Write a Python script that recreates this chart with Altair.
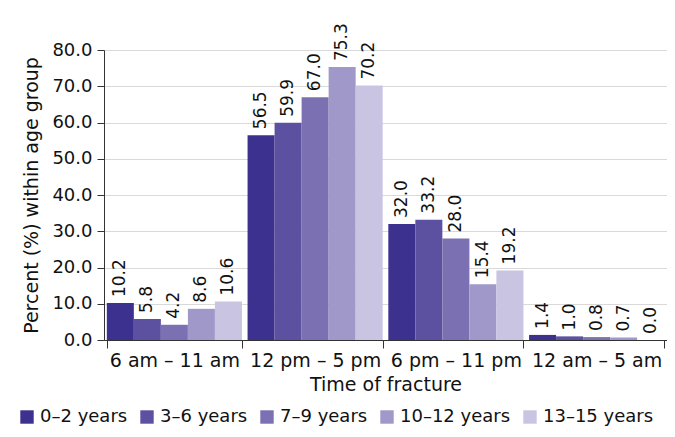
import altair as alt
import pandas as pd

categories = ["6 am – 11 am", "12 pm – 5 pm", "6 pm – 11 pm", "12 am – 5 am"]
groups = ["0–2 years", "3–6 years", "7–9 years", "10–12 years", "13–15 years"]
values = {
    "0–2 years": [10.2, 56.5, 32.0, 1.4],
    "3–6 years": [5.8, 59.9, 33.2, 1.0],
    "7–9 years": [4.2, 67.0, 28.0, 0.8],
    "10–12 years": [8.6, 75.3, 15.4, 0.7],
    "13–15 years": [10.6, 70.2, 19.2, 0.0],
}
y_ticks = [0, 10, 20, 30, 40, 50, 60, 70, 80]
colors = ["#3d3190", "#5c51a0", "#7a70b2", "#9f98c8", "#c9c4e2"]

rows = []
for g in groups:
    for c, v in zip(categories, values[g]):
        rows.append({"time": c, "group": g, "value": v})
df = pd.DataFrame(rows)

FONT = "DejaVu Sans"
INK = "#111111"

yaxis = alt.Axis(values=y_ticks, labelOverlap=False, format=".1f", labelFontSize=18,
                 titleFontSize=19, titleFontWeight="normal", tickSize=7,
                 domainColor="#333333", tickColor="#333333", gridColor="#d9d9d9",
                 labelColor=INK, titleColor=INK, titlePadding=10, labelPadding=5)

x = alt.X("time:N", sort=categories, title="Time of fracture",
          scale=alt.Scale(paddingInner=0.04, paddingOuter=0.02),
          axis=alt.Axis(labelAngle=0, labelFontSize=19, titleFontSize=19,
                        tickBand="extent", tickSize=8, domainColor="#333333",
                        tickColor="#333333", labelColor=INK, titleColor=INK,
                        titleFontWeight="normal", labelPadding=3, titlePadding=5))
xo = alt.XOffset("group:N", sort=groups, scale=alt.Scale(paddingInner=0, paddingOuter=0))
y = alt.Y("value:Q", title="Percent (%) within age group",
          scale=alt.Scale(domain=[0, 80], nice=False), axis=yaxis)
color = alt.Color("group:N", sort=groups, scale=alt.Scale(domain=groups, range=colors),
                  legend=alt.Legend(title=None, orient="none", legendX=-86, legendY=358,
                                    direction="horizontal", symbolType="square",
                                    symbolSize=180, symbolStrokeWidth=0, labelFontSize=18,
                                    labelColor=INK, columnPadding=10, labelOffset=4))

base = alt.Chart(df)
bars = base.mark_bar(opacity=1).encode(x=x, xOffset=xo, y=y, color=color)
labels = base.mark_text(angle=270, align="left", baseline="middle", dx=6,
                        fontSize=17, font=FONT, color=INK).encode(
    x=x, xOffset=xo, y=y,
    text=alt.Text("value:Q", format=".1f"))

chart = alt.layer(bars, labels).properties(
    width=563, height=290,
    autosize=alt.AutoSizeParams(type="none"),
    padding={"left": 96, "top": 42, "right": 0, "bottom": 89}
).configure(font=FONT).configure_view(stroke=None)

chart.save("out.html", embed_options={"renderer": "svg", "actions": False})
